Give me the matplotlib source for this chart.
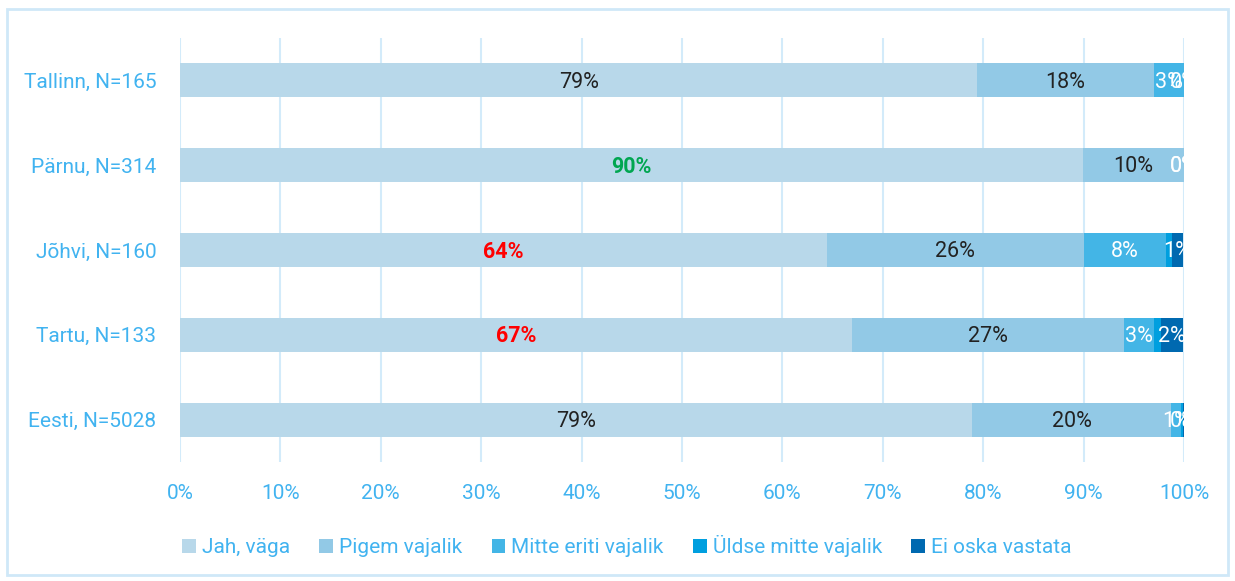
import matplotlib.pyplot as plt
from matplotlib.patches import Rectangle
import numpy as np

plt.rcParams['font.family'] = ['Roboto', 'DejaVu Sans']

regions = ["Tallinn, N=165", "Pärnu, N=314", "Jõhvi, N=160", "Tartu, N=133", "Eesti, N=5028"]
answers = ["Jah, väga", "Pigem vajalik", "Mitte eriti vajalik", "Üldse mitte vajalik", "Ei oska vastata"]
jah = [79.4, 89.9, 64.4, 66.9, 78.9]
pigem = [17.6, 10.1, 25.6, 27.1, 19.8]
mitte = [3.0, 0.0, 8.2, 3.0, 1.0]
yldse = [0.0, 0.0, 0.6, 0.7, 0.2]
ei = [0.0, 0.0, 1.1, 2.2, 0.1]
series = [jah, pigem, mitte, yldse, ei]

colors = ["#b8d8ea", "#92c9e6", "#43b5e6", "#009fdf", "#0069b0"]
label_colors = ["#222222", "#222222", "white", "white", "white"]
tick_color = "#41b3f0"
grid_color = "#d3ebfa"

# highlighted labels (row, series) -> color
highlight = {(1, 0): "#00a651", (2, 0): "#ff0000", (3, 0): "#ff0000"}

fig = plt.figure(figsize=(12.35, 5.81), dpi=100)
ax = fig.add_axes([180 / 1235, 1 - 462 / 581, (1184 - 180) / 1235, (462 - 38) / 581])

y = np.arange(len(regions))
left = np.zeros(len(regions))
for s, vals in enumerate(series):
    vals = np.array(vals)
    ax.barh(y, vals, left=left, height=0.4, color=colors[s], label=answers[s], zorder=2)
    if s != 3:
        for i, v in enumerate(vals):
            c = highlight.get((i, s), label_colors[s])
            bold = (i, s) in highlight
            ax.text(left[i] + v / 2, y[i] + 0.02, f"{v:.0f}%", ha="center", va="center",
                    fontsize=15.5, color=c, fontweight="bold" if bold else "normal",
                    clip_on=True, zorder=3)
    left += vals

ax.set_xlim(0, 100)
ax.set_ylim(len(regions) - 0.5, -0.5)
ax.set_yticks(y)
ax.set_yticklabels(regions)
ax.set_xticks(np.arange(0, 101, 10))
ax.set_xticklabels([f"{t}%" for t in range(0, 101, 10)])
ax.tick_params(axis="y", length=0, pad=17, labelsize=15, labelcolor=tick_color)
ax.tick_params(axis="x", length=0, pad=16, labelsize=15, labelcolor=tick_color)
ax.grid(axis="x", color=grid_color, linewidth=1.5, zorder=0)
for sp in ax.spines.values():
    sp.set_visible(False)

leg = fig.legend(loc="center", bbox_to_anchor=(627 / 1235, 1 - 546 / 581), ncol=5,
                 frameon=False, fontsize=15, handlelength=0.65, handleheight=0.65,
                 handletextpad=0.3, columnspacing=1.4)
for t in leg.get_texts():
    t.set_color(tick_color)

fig.patches.append(Rectangle((7 / 1235, 6 / 581), 1221 / 1235, 566 / 581, transform=fig.transFigure,
                             fill=False, edgecolor="#cfe8f8", linewidth=2))

fig.savefig("out.png", dpi=100)
